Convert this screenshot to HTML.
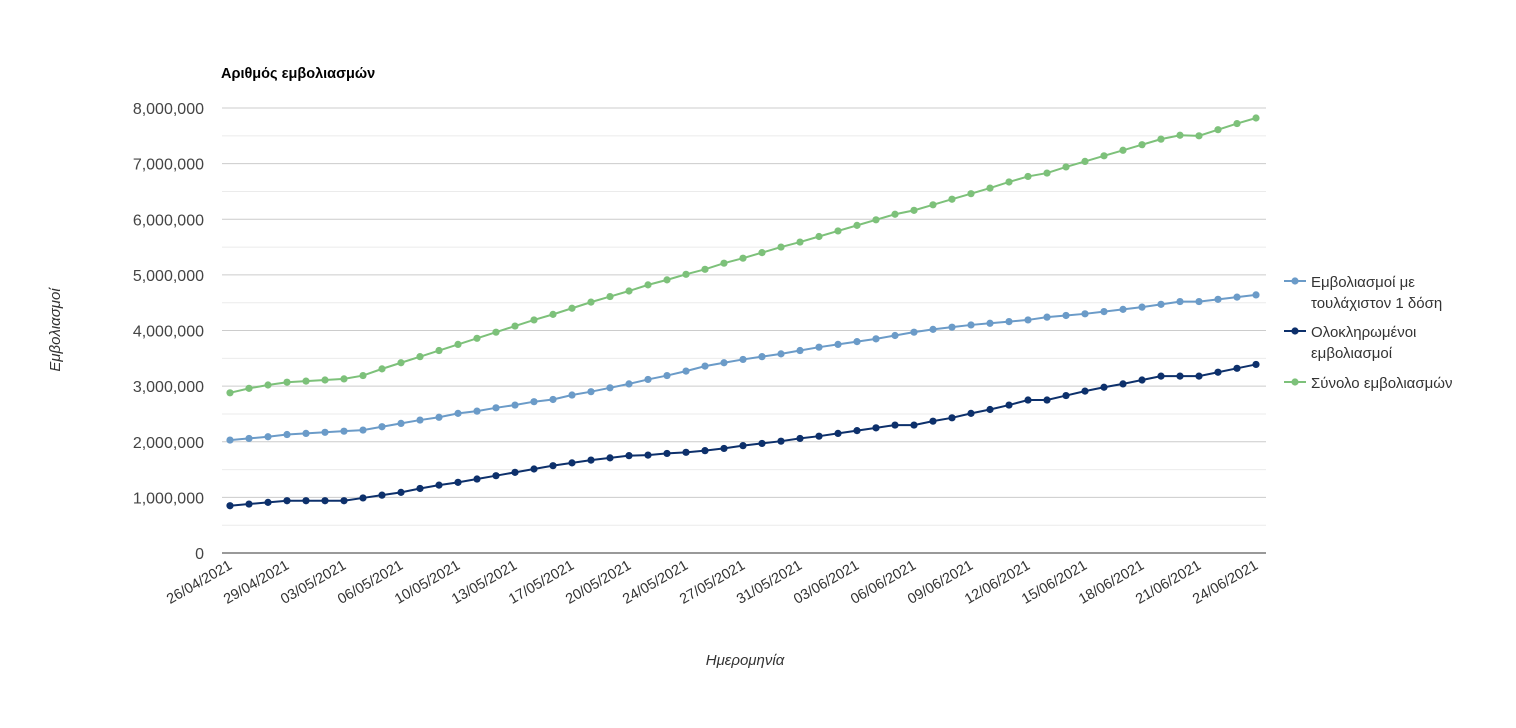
<!DOCTYPE html>
<html><head><meta charset="utf-8"><style>
body{margin:0;background:#fff;width:1516px;height:723px;overflow:hidden;font-family:"Liberation Sans",Arial,sans-serif;}
svg text{font-family:"Liberation Sans",Arial,sans-serif;}
</style></head><body>
<svg id="chart" width="1516" height="723" xmlns="http://www.w3.org/2000/svg"></svg>
<script>
const tickLabels=["26/04/2021","29/04/2021","03/05/2021","06/05/2021","10/05/2021","13/05/2021","17/05/2021","20/05/2021","24/05/2021","27/05/2021","31/05/2021","03/06/2021","06/06/2021","09/06/2021","12/06/2021","15/06/2021","18/06/2021","21/06/2021","24/06/2021"];
const yTicks=[0,1000000,2000000,3000000,4000000,5000000,6000000,7000000,8000000];
const firstDose=[2.03,2.06,2.09,2.13,2.15,2.17,2.19,2.21,2.27,2.33,2.39,2.44,2.51,2.55,2.61,2.66,2.72,2.76,2.84,2.90,2.97,3.04,3.12,3.19,3.27,3.36,3.42,3.48,3.53,3.58,3.64,3.70,3.75,3.80,3.85,3.91,3.97,4.02,4.06,4.10,4.13,4.16,4.19,4.24,4.27,4.30,4.34,4.38,4.42,4.47,4.52,4.52,4.56,4.60,4.64].map(v=>v*1e6);
const fullyVacc=[0.85,0.88,0.91,0.94,0.94,0.94,0.94,0.99,1.04,1.09,1.16,1.22,1.27,1.33,1.39,1.45,1.51,1.57,1.62,1.67,1.71,1.75,1.76,1.79,1.81,1.84,1.88,1.93,1.97,2.01,2.06,2.10,2.15,2.20,2.25,2.30,2.30,2.37,2.43,2.51,2.58,2.66,2.75,2.75,2.83,2.91,2.98,3.04,3.11,3.18,3.18,3.18,3.25,3.32,3.39].map(v=>v*1e6);
const totalVacc=[2.88,2.96,3.02,3.07,3.09,3.11,3.13,3.19,3.31,3.42,3.53,3.64,3.75,3.86,3.97,4.08,4.19,4.29,4.40,4.51,4.61,4.71,4.82,4.91,5.01,5.10,5.21,5.30,5.40,5.50,5.59,5.69,5.79,5.89,5.99,6.09,6.16,6.26,6.36,6.46,6.56,6.67,6.77,6.83,6.94,7.04,7.14,7.24,7.34,7.44,7.51,7.50,7.61,7.72,7.82].map(v=>v*1e6);

const svg=document.getElementById('chart');
const NS="http://www.w3.org/2000/svg";
function mk(tag,attrs,parent){const e=document.createElementNS(NS,tag);for(const k in attrs)e.setAttribute(k,attrs[k]);(parent||svg).appendChild(e);return e;}
const X0=230,X1=1256,Y0=553,Y1=108,YMAX=8000000;
const n=totalVacc.length;
const xs=i=>X0+(X1-X0)*i/(n-1);
const ys=v=>Y0-(Y0-Y1)*v/YMAX;

// gridlines
for(let k=0;k<=16;k++){
  const v=k*YMAX/16;
  if(k===0)continue;
  const g=mk('line',{x1:222,x2:1266,y1:ys(v),y2:ys(v),stroke:k%2===0?'#cccccc':'#ebebeb','stroke-width':1});
  
  
}
yTicks.forEach(v=>{
  const t=mk('text',{x:204,y:ys(v)+6,'text-anchor':'end','font-size':16,fill:'#444'});
  t.textContent=v.toLocaleString('en-US');
  
  
});
const ax=mk('line',{x1:222,x2:1266,y1:Y0,y2:Y0,stroke:'#333','stroke-width':1});


tickLabels.forEach((lab,j)=>{
  const x=xs(j*3)+3,y=568;
  const t=mk('text',{x:x,y:y,'text-anchor':'end','font-size':14.5,fill:'#333',transform:`rotate(-30 ${x} ${y})`});
  t.textContent=lab;
  
  
});
function series(data,color,name){
  const gr=mk('g',{});
  
  
  const p=mk('path',{d:data.map((v,i)=>(i?'L':'M')+xs(i)+' '+ys(v)).join(''),fill:'none',stroke:color,'stroke-width':2},gr);
  
  
  data.forEach((v,i)=>{
    const c=mk('circle',{cx:xs(i),cy:ys(v),r:3.6,fill:color},gr);
    
    
  });
}
series(totalVacc,'#7dc17a','total-series');
series(firstDose,'#6b9bc8','first-dose-series');
series(fullyVacc,'#0d306b','fully-vaccinated-series');

const title=mk('text',{x:221,y:78,'font-size':14.5,'font-weight':'bold',fill:'#000'});
title.textContent='Αριθμός εμβολιασμών';


const xt=mk('text',{x:745,y:665,'text-anchor':'middle','font-size':15,'font-style':'italic',fill:'#333'});
xt.textContent='Ημερομηνία';


const yt=mk('text',{x:60,y:330,'text-anchor':'middle','font-size':15,'font-style':'italic',fill:'#333',transform:'rotate(-90 60 330)'});
yt.textContent='Εμβολιασμοί';



const legend=[
  {c:'#6b9bc8',y:281,lines:['Εμβολιασμοί με','τουλάχιστον 1 δόση'],n:'legend-first-dose'},
  {c:'#0d306b',y:331,lines:['Ολοκληρωμένοι','εμβολιασμοί'],n:'legend-fully-vaccinated'},
  {c:'#7dc17a',y:382,lines:['Σύνολο εμβολιασμών'],n:'legend-total'}
];
legend.forEach(L=>{
  const g=mk('g',{});
  
  
  mk('line',{x1:1284,x2:1306,y1:L.y,y2:L.y,stroke:L.c,'stroke-width':2},g);
  mk('circle',{cx:1295,cy:L.y,r:3.6,fill:L.c},g);
  L.lines.forEach((s,k)=>{
    const t=mk('text',{x:1311,y:L.y+6+k*21,'font-size':15,fill:'#333'},g);
    t.textContent=s;
  });
});
</script>
</body></html>
